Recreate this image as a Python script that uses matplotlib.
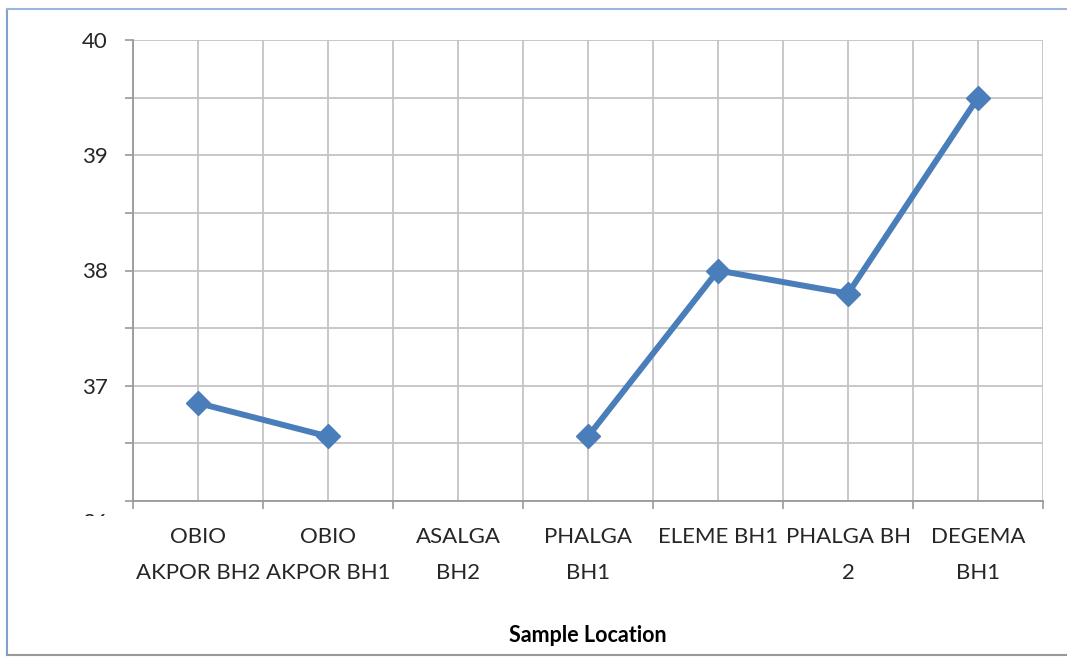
import matplotlib
matplotlib.use("Agg")
import matplotlib.pyplot as plt
import numpy as np
from matplotlib.patches import Rectangle
from matplotlib.lines import Line2D

plt.rcParams['font.family'] = ['Lato', 'DejaVu Sans']

# sample locations and measured values (ASALGA BH2 has no reading)
locations = ['OBIO\nAKPOR BH2', 'OBIO\nAKPOR BH1', 'ASALGA\nBH2', 'PHALGA\nBH1',
             'ELEME BH1', 'PHALGA BH\n2', 'DEGEMA\nBH1']
values = [36.85, 36.56, np.nan, 36.56, 38.0, 37.8, 39.5]
y_ticks = [36, 36.5, 37, 37.5, 38, 38.5, 39, 39.5, 40]
y_labels = ['', '', '37', '', '38', '', '39', '', '40']

fig = plt.figure(figsize=(10.67, 6.58), dpi=100)
ax = fig.add_axes([133/1067, 1 - 501/658, (1043 - 133)/1067, (501 - 40)/658])

x = np.arange(len(locations))
ax.plot(x, values, color='#4a7ebb', lw=4.3, marker='D', ms=12.5,
        solid_capstyle='round', zorder=3)

ax.set_xlim(-0.5, len(locations) - 0.5)
ax.set_ylim(36, 40)

# gridlines at every half step in both directions
grid_c = '#c4c4c4'
for gx in np.arange(-0.5, len(locations), 0.5):
    ax.axvline(gx, color=grid_c, lw=1.3, zorder=1)
for gy in y_ticks:
    ax.axhline(gy, color=grid_c, lw=1.3, zorder=1)

for s in ['top', 'right']:
    ax.spines[s].set_visible(False)
ax.spines['left'].set_color('#999999')
ax.spines['bottom'].set_color('#999999')
ax.spines['left'].set_linewidth(1.3)
ax.spines['bottom'].set_linewidth(1.3)

ax.set_yticks(y_ticks)
ax.set_yticklabels(y_labels, fontsize=16, color='#262626')
ax.tick_params(axis='y', length=6, width=1.2, color='#999999', pad=12)

ax.set_xticks(x)
ax.set_xticklabels(locations, fontsize=16, color='#262626', linespacing=2.0)
ax.set_xticks(np.arange(-0.5, len(locations), 1.0), minor=True)
ax.tick_params(axis='x', which='major', length=0, pad=19)
ax.tick_params(axis='x', which='minor', length=6, width=1.2, color='#999999')

ax.set_xlabel('Sample Location', fontsize=15.5, fontweight='bold', labelpad=30)

# the bottom "36" label is mostly hidden below the plot area
t36 = fig.text(108/1067, 1 - 523/658, '36', fontsize=16, color='#262626',
               ha='right', va='center')
t36.set_clip_path(Rectangle((0, 1 - 516/658), 1, 4/658, transform=fig.transFigure))

# outer frame
fig.add_artist(Line2D([7/1067, 7/1067], [1 - 9/658, 1 - 655/658],
                      transform=fig.transFigure, color='#7fa2cf', lw=1.5))
fig.add_artist(Line2D([7/1067, 1], [1 - 9/658, 1 - 9/658],
                      transform=fig.transFigure, color='#9ab6dc', lw=1.5))
fig.add_artist(Line2D([7/1067, 1], [1 - 655/658, 1 - 655/658],
                      transform=fig.transFigure, color='#999999', lw=1.5))

fig.savefig('out.png', dpi=100)
